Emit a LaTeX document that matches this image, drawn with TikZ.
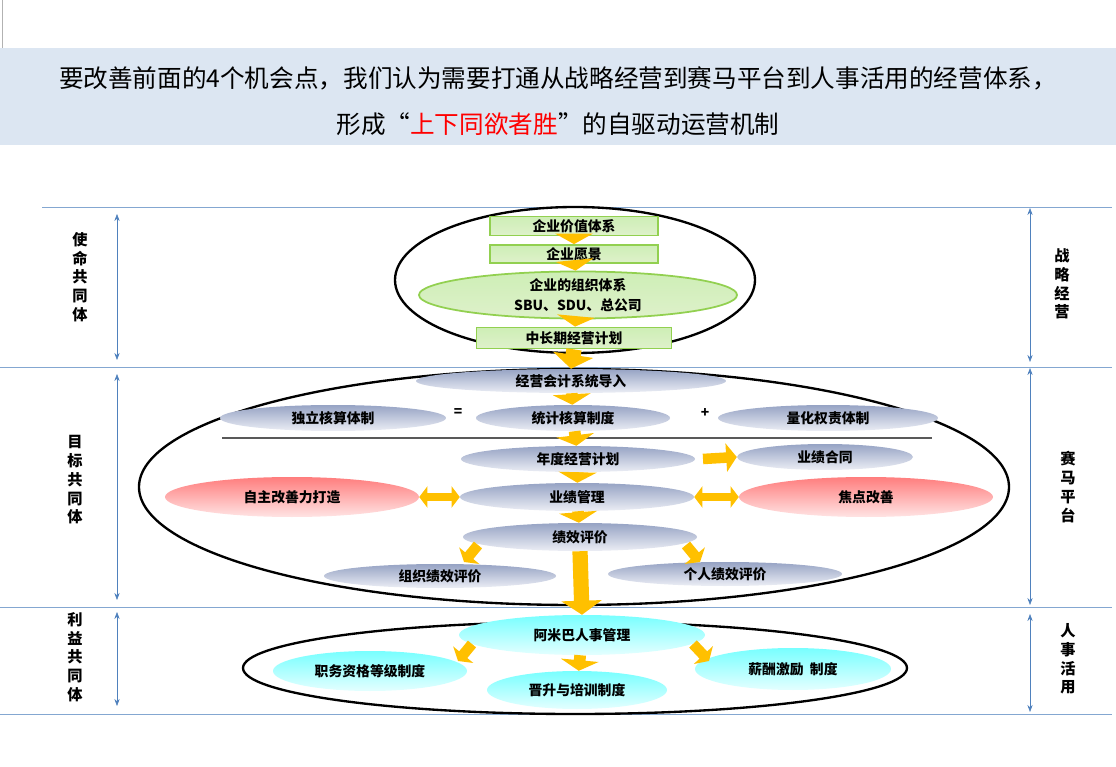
\documentclass[tikz,border=0pt]{standalone}
\usepackage{fontspec}
\setmainfont{Noto Sans CJK SC}
\usetikzlibrary{shapes.geometric,arrows.meta}
\definecolor{bandblue}{RGB}{220,230,242}
\definecolor{rulerblue}{RGB}{79,129,189}
\definecolor{arrowgold}{RGB}{255,192,0}
\definecolor{boxgreen}{RGB}{146,208,80}
\newdimen\px \px=0.03cm

\begin{document}
\begin{tikzpicture}[x=\px,y=-\px,
	every node/.style={font=\bfseries\fontsize{11.8}{13}\selectfont},
	greenbox/.style={draw=boxgreen,line width=1.5pt,top color=green!10!boxgreen!40,bottom color=boxgreen!30,inner sep=0pt},
	grayell/.style={ellipse,top color={rgb,255:red,150;green,163;blue,196},bottom color={rgb,255:red,236;green,238;blue,245},inner sep=0pt},
	redell/.style={ellipse,top color={rgb,255:red,255;green,125;blue,125},bottom color={rgb,255:red,255;green,228;blue,228},inner sep=0pt},
	cyanell/.style={ellipse,top color={rgb,255:red,120;green,255;blue,255},bottom color={rgb,255:red,228;green,255;blue,255},inner sep=0pt},
	ring/.style={draw,line width=2pt},
	flow/.style={draw=arrowgold,line width=10pt,-{Triangle[length=9pt,width=32pt]}},
	tilt/.style={draw=arrowgold,line width=9pt,-{Triangle[length=7pt,width=22pt]}},
	bigflow/.style={draw=arrowgold,line width=13pt,-{Triangle[length=12pt,width=34pt]}},
	twoway/.style={draw=arrowgold,line width=7pt,{Triangle[length=7pt,width=18pt]}-{Triangle[length=7pt,width=18pt]}},
	ruler/.style={draw=rulerblue!70,line width=0.5pt},
	span/.style={draw=rulerblue,line width=0.5pt,{Stealth[length=6pt]}-{Stealth[length=6pt]}},
	side/.style={align=center,font=\bfseries\fontsize{13}{16}\selectfont}]
	\useasboundingbox (0,0) rectangle (1116,767);
	\fill[bandblue] (0,48) rectangle (1116,145);
	\draw[gray!60] (2,0) -- (2,48);
	\node[font=\fontsize{21}{24}\selectfont] (title1) at (558,78) {要改善前面的4个机会点，我们认为需要打通从战略经营到赛马平台到人事活用的经营体系，};
	\node[font=\fontsize{21}{24}\selectfont] (title2) at (558,124) {形成“{\color{red}上下同欲者胜}”的自驱动运营机制};

	% rulers
	\draw[ruler] (42,207) -- (1112,207);
	\draw[ruler] (0,367) -- (1112,367);
	\draw[ruler] (0,607) -- (1112,607);
	\draw[ruler] (0,714) -- (1112,714);
	\coordinate (l1a) at (117,214); \coordinate (l1b) at (117,360);
	\coordinate (l2a) at (117,374); \coordinate (l2b) at (117,600);
	\coordinate (l3a) at (117,612); \coordinate (l3b) at (117,706);
	\coordinate (r1a) at (1030,208); \coordinate (r1b) at (1030,362);
	\coordinate (r2a) at (1030,368); \coordinate (r2b) at (1030,605);
	\coordinate (r3a) at (1030,614); \coordinate (r3b) at (1030,712);
	\draw[span] (l1a) -- (l1b);
	\draw[span] (l2a) -- (l2b);
	\draw[span] (l3a) -- (l3b);
	\draw[span] (r1a) -- (r1b);
	\draw[span] (r2a) -- (r2b);
	\draw[span] (r3a) -- (r3b);
	\node[side] (mission) at (80,277) {使\\命\\共\\同\\体};
	\node[side] (target) at (75,480) {目\\标\\共\\同\\体};
	\node[side] (benefit) at (75,657) {利\\益\\共\\同\\体};
	\node[side] (strategy) at (1062,284) {战\\略\\经\\营};
	\node[side] (race) at (1068,487) {赛\\马\\平\\台};
	\node[side] (hr) at (1068,659) {人\\事\\活\\用};

	% strategy ring
	\draw[ring] (575,280) ellipse [x radius=180,y radius=73];
	\node[greenbox,minimum width=168\px,minimum height=19\px] (value) at (574,226) {企业价值体系};
	\node[greenbox,minimum width=168\px,minimum height=18\px] (vision) at (574,254) {企业愿景};
	\node[greenbox,ellipse,align=center,minimum width=318\px,minimum height=44\px,
		font=\bfseries\fontsize{11.8}{17}\selectfont] (org) at (578,295) {企业的组织体系\\SBU、SDU、总公司};
	\node[greenbox,minimum width=195\px,minimum height=21\px] (plan) at (574,338) {中长期经营计划};
	\draw[flow] (value) -- (vision);
	\draw[flow] (vision) -- (org);
	\draw[flow] (org) -- (plan);

	% race ring
	\draw[ring] (574,487) ellipse [x radius=435,y radius=118];
	\node[grayell,minimum width=310\px,minimum height=24\px] (acct) at (571,381) {经营会计系统导入};
	\draw[bigflow] (plan.south) -- (acct.north);
	\node[grayell,minimum width=226\px,minimum height=26\px] (indep) at (333,418) {独立核算体制};
	\node[grayell,minimum width=194\px,minimum height=26\px] (stat) at (573,418) {统计核算制度};
	\node[grayell,minimum width=220\px,minimum height=26\px] (quant) at (828,418) {量化权责体制};
	\node (eq) at (458,413) {=};
	\node (plus) at (705,413) {+};
	\draw[flow] (acct) -- (stat);
	\draw[gray!70!black,line width=1pt] (222,438) -- (932,438);
	\node[grayell,minimum width=234\px,minimum height=26\px] (annual) at (578,459) {年度经营计划};
	\node[grayell,minimum width=176\px,minimum height=26\px] (contract) at (825,457) {业绩合同};
	\coordinate (annualtip) at (703,459);
	\draw[flow] (stat) -- (annual);
	\draw[flow,line width=9pt,-{Triangle[length=9pt,width=24pt]}] (annualtip) -- (contract.west);
	\node[redell,minimum width=254\px,minimum height=40\px] (selfimp) at (292,497) {自主改善力打造};
	\node[grayell,minimum width=234\px,minimum height=28\px] (perfmgt) at (577,497) {业绩管理};
	\node[redell,minimum width=254\px,minimum height=40\px] (focus) at (866,497) {焦点改善};
	\draw[flow] (annual) -- (perfmgt);
	\draw[twoway] (selfimp) -- (perfmgt);
	\draw[twoway] (perfmgt) -- (focus);
	\node[grayell,minimum width=234\px,minimum height=28\px] (eval) at (580,537) {绩效评价};
	\node[grayell,minimum width=232\px,minimum height=24\px] (orgeval) at (440,576) {组织绩效评价};
	\node[grayell,minimum width=234\px,minimum height=24\px] (personeval) at (725,574) {个人绩效评价};
	\coordinate (evalL) at (478,545); \coordinate (evalLtip) at (464,562);
	\coordinate (evalR) at (686,545); \coordinate (evalRtip) at (700,562);
	\draw[flow] (perfmgt) -- (eval);
	\draw[tilt] (evalL) -- (evalLtip);
	\draw[tilt] (evalR) -- (evalRtip);

	% hr ring
	\draw[ring] (575,668) ellipse [x radius=332,y radius=46];
	\node[cyanell,minimum width=246\px,minimum height=40\px] (amoeba) at (582,635) {阿米巴人事管理};
	\node[cyanell,minimum width=194\px,minimum height=40\px] (grade) at (370,671) {职务资格等级制度};
	\node[cyanell,minimum width=180\px,minimum height=38\px] (promo) at (577,690) {晋升与培训制度};
	\node[cyanell,minimum width=196\px,minimum height=42\px] (pay) at (793,669) {薪酬激励\ \ 制度};
	\coordinate (amoebaL) at (472,644); \coordinate (amoebaLtip) at (458,661);
	\coordinate (amoebaR) at (693,644); \coordinate (amoebaRtip) at (709,661);
	\draw[bigflow] (eval.south) -- (amoeba.north);
	\draw[tilt] (amoebaL) -- (amoebaLtip);
	\draw[flow] (amoeba) -- (promo);
	\draw[tilt] (amoebaR) -- (amoebaRtip);
\end{tikzpicture}
\end{document}
